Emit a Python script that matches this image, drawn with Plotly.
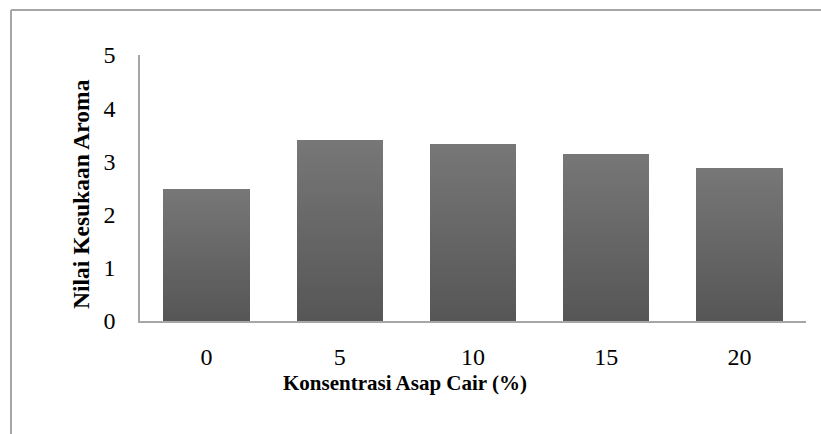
import plotly.graph_objects as go

# Liquid smoke concentration (%) and aroma preference score
categories = ["0", "5", "10", "15", "20"]
aroma_scores = [2.48, 3.40, 3.32, 3.14, 2.87]
y_ticks = [0, 1, 2, 3, 4, 5]

# vertical shading of the bars: bottom colour -> top colour
n_slices = 40
bottom_rgb = (86, 86, 86)
top_rgb = (119, 119, 119)

fig = go.Figure()
for k in range(n_slices):
    t = (k + 0.5) / n_slices
    r, g, b = (round(bottom_rgb[i] + (top_rgb[i] - bottom_rgb[i]) * t) for i in range(3))
    fig.add_trace(go.Bar(
        x=categories,
        y=[v / n_slices for v in aroma_scores],
        marker=dict(color=f"rgb({r},{g},{b})", line=dict(width=0)),
        hoverinfo="skip" if k else None,
        showlegend=False,
    ))

L, R, T, B = 140, 15, 55, 113
W, H = 821, 434
pw, ph = W - L - R, H - T - B

def px(x):
    return (x - L) / pw

def py(y):
    return (H - B - y) / ph

serif = "Liberation Serif, Times New Roman, serif"

fig.update_layout(
    width=W, height=H,
    margin=dict(l=L, r=R, t=T, b=B),
    barmode="stack",
    bargap=0.35,
    plot_bgcolor="white",
    paper_bgcolor="white",
    font=dict(family=serif, size=24, color="black"),
    xaxis=dict(
        showline=True, linecolor="#a6a6a6", linewidth=1.5,
        showgrid=False, ticks="", ticklabelstandoff=13,
    ),
    yaxis=dict(
        range=[0, 5], tickvals=y_ticks, showline=True, linecolor="#a6a6a6",
        linewidth=1.5, showgrid=False, zeroline=False, ticks="",
        ticklabelstandoff=18,
    ),
    annotations=[
        dict(text="<b>Konsentrasi Asap Cair (%)</b>", xref="paper", yref="paper",
             x=px(405), y=py(383), showarrow=False, font=dict(size=21),
             xanchor="center", yanchor="middle"),
        dict(text="<b>Nilai Kesukaan Aroma</b>", xref="paper", yref="paper",
             x=px(81), y=py(194), showarrow=False, font=dict(size=23.5),
             textangle=-90, xanchor="center", yanchor="middle"),
    ],
    shapes=[
        dict(type="line", xref="paper", yref="paper", x0=px(11), x1=px(W + 5),
             y0=py(10), y1=py(10), line=dict(color="#a6a6a6", width=2)),
        dict(type="line", xref="paper", yref="paper", x0=px(11), x1=px(11),
             y0=py(10), y1=py(H + 5), line=dict(color="#a6a6a6", width=2)),
    ],
)

fig.write_html("out.html")
